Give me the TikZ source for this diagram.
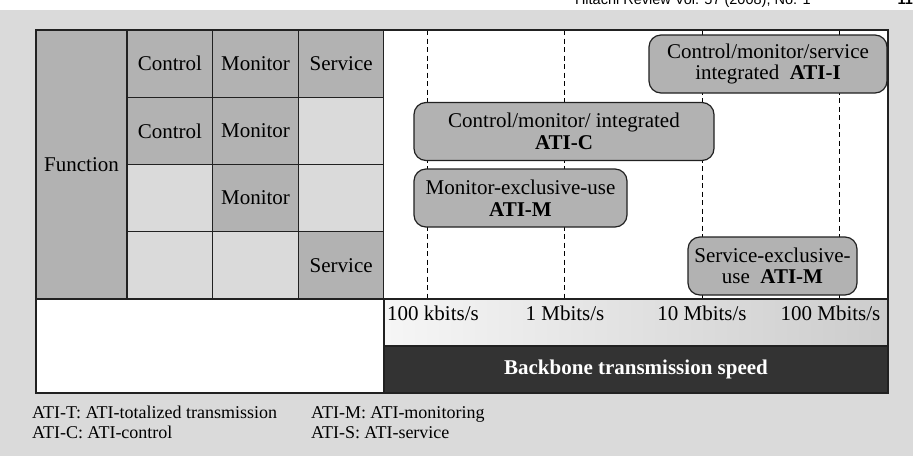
\documentclass[tikz,border=0pt]{standalone}
\usepackage{fontspec}
\setmainfont{Liberation Serif}
\newfontfamily\hdrfont{Liberation Sans}
\usetikzlibrary{positioning}

\definecolor{pagegray}{gray}{0.855}
\definecolor{cellgray}{gray}{0.70}
\definecolor{lightcell}{gray}{0.855}
\definecolor{linegray}{gray}{0.13}
\definecolor{bandgray}{gray}{0.20}
\definecolor{speedlight}{gray}{0.965}
\definecolor{speeddark}{gray}{0.80}

\begin{document}
\begin{tikzpicture}[x=1pt,y=-1pt,
                    every node/.style={font=\fontsize{21}{21.5}\selectfont,inner sep=0pt,outer sep=0pt},
                    every text node part/.style={align=center}]
  \tikzstyle{dcell}=[draw=linegray,line width=1.4pt,fill=cellgray,minimum width=85.67pt,minimum height=67.25pt]
  \tikzstyle{lcell}=[dcell,fill=lightcell]
  \tikzstyle{atibox}=[draw=linegray,line width=1.2pt,fill=cellgray,rounded corners=12pt,minimum height=58pt]
  \tikzstyle{gridline}=[black,line width=0.9pt,dash pattern=on 5pt off 3.5pt]
  \tikzstyle{speedlbl}=[anchor=base]
  \tikzstyle{legend}=[anchor=base west,font=\fontsize{18}{18}\selectfont]

  \useasboundingbox (0,0) rectangle (913,456);
  \fill[pagegray] (0,10) rectangle (913,456);
  \node[anchor=base west,font=\hdrfont\fontsize{14.5}{15}\selectfont] (hdr) at (575,4) {Hitachi Review Vol. 57 (2008), No. 1};
  \node[anchor=base east,font=\hdrfont\bfseries\fontsize{14.5}{15}\selectfont] (page) at (913,4) {11};

  % function table
  \node[dcell,minimum width=91pt,minimum height=269pt,anchor=north west] (fun) at (36,30) {Function};
  \node[dcell,anchor=north west] (r1c1) at (fun.north east) {Control};
  \node[dcell] (r1c2) [right=0pt of r1c1] {Monitor};
  \node[dcell] (r1c3) [right=0pt of r1c2] {Service};
  \node[dcell] (r2c1) [below=0pt of r1c1] {Control};
  \node[dcell] (r2c2) [right=0pt of r2c1] {Monitor};
  \node[lcell] (r2c3) [right=0pt of r2c2] {};
  \node[lcell] (r3c1) [below=0pt of r2c1] {};
  \node[dcell] (r3c2) [right=0pt of r3c1] {Monitor};
  \node[lcell] (r3c3) [right=0pt of r3c2] {};
  \node[lcell] (r4c1) [below=0pt of r3c1] {};
  \node[lcell] (r4c2) [right=0pt of r4c1] {};
  \node[dcell] (r4c3) [right=0pt of r4c2] {Service};

  % speed panel
  \node[fill=white,minimum width=504pt,minimum height=269pt,anchor=north west] (panel) at (r1c3.north east) {};
  \foreach \x in {427,564,702,839}
    \draw[gridline] (\x,30) -- (\x,299);

  \node[atibox,minimum width=238pt] (atii) at (768,64) {Control/monitor/service\\integrated\ \ \textbf{ATI-I}};
  \node[atibox,minimum width=300pt] (atic) at (564,131.5) {Control/monitor/ integrated\\\textbf{ATI-C}};
  \node[atibox,minimum width=213pt] (atim) at (520.5,198) {Monitor-exclusive-use\\\textbf{ATI-M}};
  \node[atibox,minimum width=169pt] (atis) at (772.5,266) {Service-exclusive-\\use\ \ \textbf{ATI-M}};

  % bottom rows
  \node[fill=white,minimum width=348pt,minimum height=94pt,anchor=north west] (blank) at (fun.south west) {};
  \node[left color=speedlight,right color=speeddark,minimum width=504pt,minimum height=47pt,anchor=north west] (speed) at (blank.north east) {};
  \node[fill=bandgray,text=white,font=\bfseries\fontsize{21}{21.5}\selectfont,minimum width=504pt,minimum height=47pt] (band) [below=0pt of speed] {Backbone transmission speed};

  \node[speedlbl] (s1) at (433,320) {100 kbits/s};
  \node[speedlbl] (s2) at (565,320) {1 Mbits/s};
  \node[speedlbl] (s3) at (702,320) {10 Mbits/s};
  \node[speedlbl] (s4) at (830.5,320) {100 Mbits/s};

  \draw[linegray,line width=1.4pt] (blank.north west) -- (speed.north east);
  \draw[linegray,line width=1.4pt] (blank.north east) -- (blank.south east);
  \draw[linegray,line width=1.4pt] (speed.south west) -- (speed.south east);
  \draw[linegray,line width=2pt] (fun.north west) rectangle (band.south east);

  % legend
  \node[legend] (l1) at (32,418) {ATI-T: ATI-totalized transmission};
  \node[legend] (l2) at (32,438) {ATI-C: ATI-control};
  \node[legend] (l3) at (311,418) {ATI-M: ATI-monitoring};
  \node[legend] (l4) at (311,438) {ATI-S: ATI-service};
\end{tikzpicture}
\end{document}
